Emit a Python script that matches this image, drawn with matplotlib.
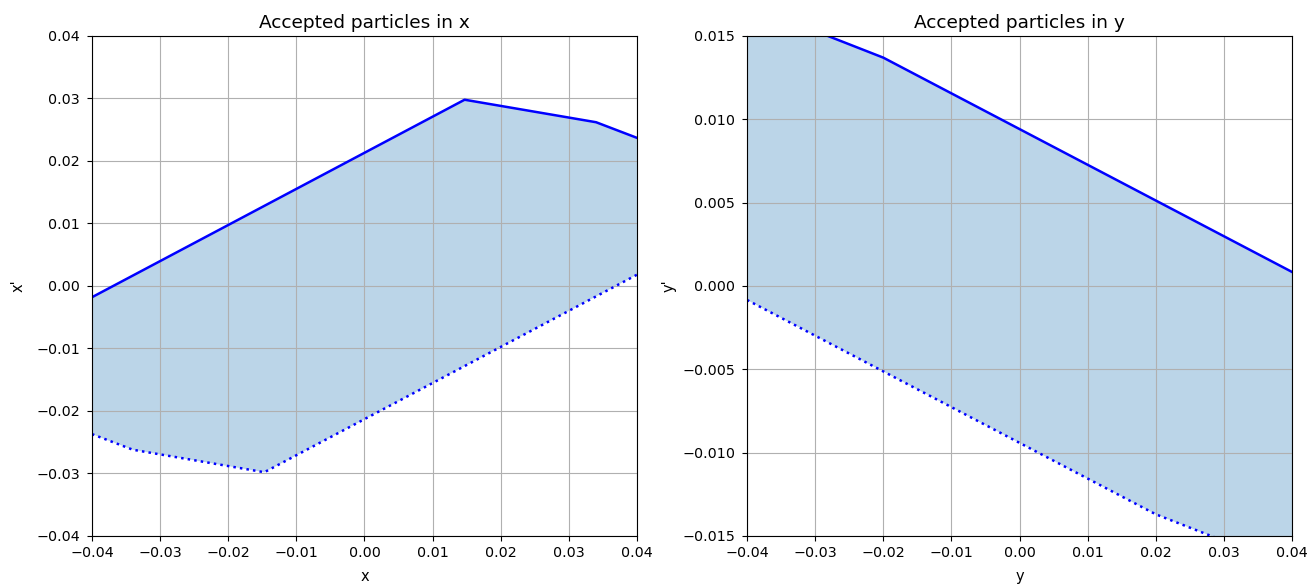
import numpy as np
import matplotlib
matplotlib.use('Agg')
import matplotlib.pyplot as plt

# acceptance boundary in x (upper solid, lower dotted)
x_upper = [-0.04, 0.0147, 0.0340, 0.04]
xp_upper = [-0.0018, 0.0298, 0.0262, 0.0237]
x_lower = [-0.04, -0.0340, -0.0147, 0.04]
xp_lower = [-0.0237, -0.0262, -0.0298, 0.0018]

# acceptance boundary in y
y_upper = [-0.04, -0.02, 0.04]
yp_upper = [0.0169, 0.0137, 0.00084]
y_lower = [-0.04, 0.02, 0.04]
yp_lower = [-0.00084, -0.0137, -0.0169]

fig, (ax1, ax2) = plt.subplots(1, 2, figsize=(13.1, 5.85), dpi=100)
fig.subplots_adjust(left=0.0702, right=0.9863, top=0.9385, bottom=0.0838, wspace=0.202)


def draw(ax, xu, yu, xl, yl):
    # filled region between the two boundaries
    px = np.concatenate([xu, xl[::-1]])
    py = np.concatenate([yu, yl[::-1]])
    ax.fill(px, py, color='tab:blue', alpha=0.3, linewidth=0)
    ax.plot(xu, yu, color='b', linestyle='-', linewidth=1.8)
    ax.plot(xl, yl, color='b', linestyle=':', linewidth=1.8)
    ax.grid(True)
    ax.tick_params(axis='y', pad=5)
    ax.tick_params(labelsize=10.3)


draw(ax1, x_upper, xp_upper, x_lower, xp_lower)
ax1.set_xlim(-0.04, 0.04)
ax1.set_ylim(-0.04, 0.04)
ax1.set_title('Accepted particles in x', fontsize=13.3)
ax1.set_xlabel('x', fontsize=10.5, labelpad=7)
ax1.set_ylabel("x'", fontsize=10.5, labelpad=8)

draw(ax2, y_upper, yp_upper, y_lower, yp_lower)
ax2.set_xlim(-0.04, 0.04)
ax2.set_ylim(-0.015, 0.015)
ax2.set_title('Accepted particles in y', fontsize=13.3)
ax2.set_xlabel('y', fontsize=10.5, labelpad=7)
ax2.set_ylabel("y'", fontsize=10.5, labelpad=4)

fig.savefig('out.png', dpi=100)
